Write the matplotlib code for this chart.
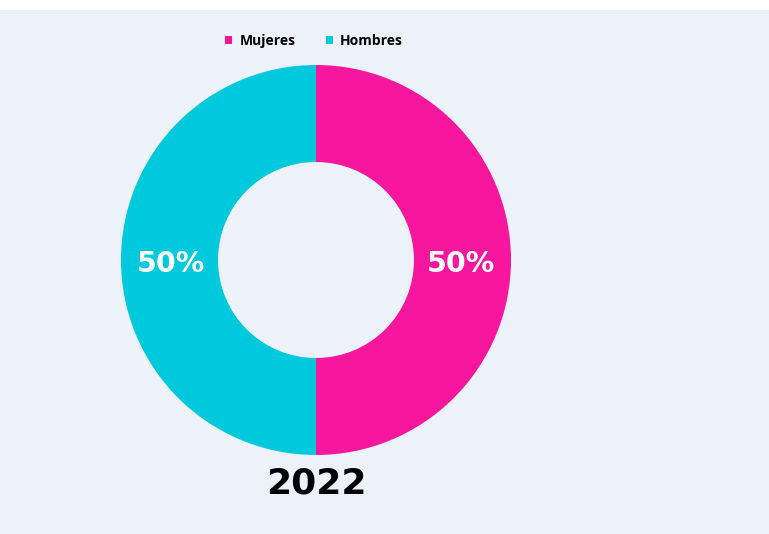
import matplotlib.pyplot as plt
from matplotlib.patches import Rectangle, Patch

# Data
categories = ["Mujeres", "Hombres"]
values = [50, 50]
colors = ["#F7169E", "#00C9DD"]
year = "2022"

W, H = 769, 534
fig = plt.figure(figsize=(W / 100, H / 100), dpi=100, facecolor="white")

# background panel (white strip on top)
fig.patches.append(Rectangle((0, 0), 1, (H - 10) / H, transform=fig.transFigure,
                             facecolor="#EDF1F9", edgecolor="none", zorder=-10))

# donut axes, centre at (316, 260) px from top-left
cx, cy, half = 316, H - 260, 200
ax = fig.add_axes([(cx - half) / W, (cy - half) / H, 2 * half / W, 2 * half / H])
ax.set_facecolor("none")
ax.set_zorder(5)
wedges, texts, autotexts = ax.pie(
    values, colors=colors, startangle=90, counterclock=False, radius=195 / 200,
    autopct="%d%%", pctdistance=0.744,
    wedgeprops=dict(width=97 / 200, edgecolor="none"),
    textprops=dict(color="white", fontsize=20.5, fontweight="bold", family="DejaVu Sans"),
)
for t in autotexts:
    x, y = t.get_position()
    t.set_position((x, y - 0.02))
ax.set_xlim(-1, 1)
ax.set_ylim(-1, 1)
ax.set_aspect("equal")
ax.axis("off")

fig.text(cx / W, 1 - 484 / H, year, ha="center", va="center",
         fontsize=26, fontweight="bold", color="black", family="DejaVu Sans")

handles = [Patch(facecolor=c, edgecolor="none") for c in colors]
fig.legend(handles, categories, loc="center", bbox_to_anchor=(314 / W, 1 - 41 / H),
           ncol=2, frameon=False, handlelength=0.5, handleheight=0.5,
           handletextpad=0.5, columnspacing=2.2,
           prop=dict(family="Open Sans", weight="bold", size=10))

fig.savefig("out.png", dpi=100, facecolor=fig.get_facecolor())
